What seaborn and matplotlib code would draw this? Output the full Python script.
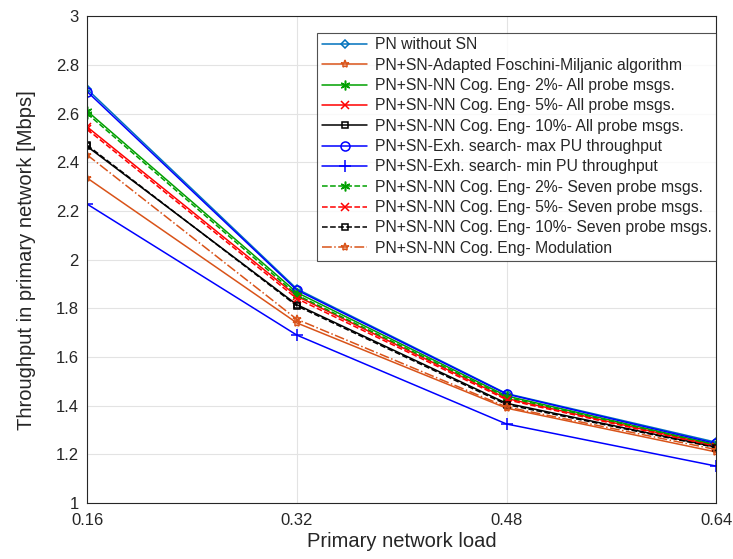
import numpy as np
import pandas as pd
import matplotlib
matplotlib.use("Agg")
import matplotlib.pyplot as plt
import seaborn as sns

# -------------------------
# DATA
# -------------------------
load = [0.16, 0.32, 0.48, 0.64]

pn_without_sn = [2.70, 1.88, 1.45, 1.25]
foschini = [2.335, 1.74, 1.39, 1.21]
nn_2_all = [2.61, 1.865, 1.44, 1.24]
nn_5_all = [2.545, 1.85, 1.43, 1.235]
nn_10_all = [2.465, 1.815, 1.41, 1.23]
exh_max = [2.69, 1.875, 1.448, 1.245]
exh_min = [2.228, 1.69, 1.325, 1.152]
nn_2_seven = [2.60, 1.855, 1.435, 1.238]
nn_5_seven = [2.535, 1.84, 1.425, 1.232]
nn_10_seven = [2.47, 1.81, 1.405, 1.228]
nn_modulation = [2.43, 1.755, 1.395, 1.22]

labels = [
    "PN without SN",
    "PN+SN-Adapted Foschini-Miljanic algorithm",
    "PN+SN-NN Cog. Eng- 2%- All probe msgs.",
    "PN+SN-NN Cog. Eng- 5%- All probe msgs.",
    "PN+SN-NN Cog. Eng- 10%- All probe msgs.",
    "PN+SN-Exh. search- max PU throughput",
    "PN+SN-Exh. search- min PU throughput",
    "PN+SN-NN Cog. Eng- 2%- Seven probe msgs.",
    "PN+SN-NN Cog. Eng- 5%- Seven probe msgs.",
    "PN+SN-NN Cog. Eng- 10%- Seven probe msgs.",
    "PN+SN-NN Cog. Eng- Modulation",
]
series = [pn_without_sn, foschini, nn_2_all, nn_5_all, nn_10_all, exh_max,
          exh_min, nn_2_seven, nn_5_seven, nn_10_seven, nn_modulation]

# -------------------------
# STYLES
# -------------------------
colors = ["#0072BD", "#D95319", "#00A000", "#FF0000", "#000000", "#0000FF",
          "#0000FF", "#00A000", "#FF0000", "#000000", "#D95319"]
markers = ["D", "*", (6, 2, 0), "x", "s", "o", "+", (6, 2, 0), "x", "s", "*"]
msizes = [4.5, 6, 7, 6, 5, 6.5, 8, 7, 6, 5, 6]
dashes = ["-", "-", "-", "-", "-", "-", "-", "--", "--", "--", "-."]

sns.set_theme(style="whitegrid")
plt.rcParams["font.family"] = ["Liberation Sans", "DejaVu Sans"]

fig = plt.figure(figsize=(7.33, 5.59), dpi=100)
ax = fig.add_axes([0.119, 0.100, 0.858, 0.871])

for lab, vals, c, m, ms, ls in zip(labels, series, colors, markers, msizes, dashes):
    df = pd.DataFrame({"load": load, "thr": vals})
    sns.lineplot(data=df, x="load", y="thr", ax=ax, color=c, marker=m,
                 markersize=ms, linestyle=ls, linewidth=1.1, label=lab,
                 markerfacecolor="none", markeredgecolor=c, markeredgewidth=1.1)

ax.set_xlim(0.16, 0.64)
ax.set_ylim(1, 3)
ax.set_xticks(load)
ax.set_xticklabels(["0.16", "0.32", "0.48", "0.64"])
ax.set_yticks(np.arange(1, 3.01, 0.2))
ax.set_yticklabels(["1", "1.2", "1.4", "1.6", "1.8", "2", "2.2", "2.4", "2.6", "2.8", "3"])
ax.tick_params(axis="both", labelsize=12, direction="in", length=4, colors="#262626")
ax.tick_params(axis="x", pad=7)
ax.tick_params(axis="y", pad=6)
ax.set_xlabel("Primary network load", fontsize=14.5, color="#262626", labelpad=3)
ax.set_ylabel("Throughput in primary network [Mbps]", fontsize=14.5, color="#262626", labelpad=14)

ax.set_facecolor("white")
ax.grid(True, color="#e3e3e3", linewidth=0.8)
for sp in ax.spines.values():
    sp.set_color("#262626")
    sp.set_linewidth(0.8)

leg = ax.legend(loc="upper right", bbox_to_anchor=(1.0, 0.966), fontsize=11.3,
                frameon=True, fancybox=False, edgecolor="#262626",
                handlelength=2.9, labelspacing=0.34, borderpad=0.3,
                handletextpad=0.45, borderaxespad=0.0)
leg.get_frame().set_linewidth(0.8)

fig.savefig("out.png", dpi=100)
